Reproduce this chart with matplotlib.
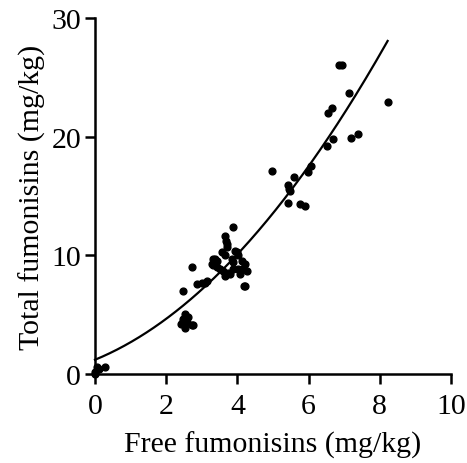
import numpy as np
import matplotlib.pyplot as plt

plt.rcParams['font.family'] = ['Liberation Serif', 'DejaVu Serif']

# free fumonisins (mg/kg)
free_fum = [0.0, 0.05, 0.1, 0.0, 0.28,
            2.43, 2.48, 2.53, 2.58, 2.72, 2.53, 2.76, 2.50, 2.62, 2.45,
            2.46, 2.73, 2.86, 3.0, 3.14, 3.09,
            3.28, 3.32, 3.42, 3.32, 3.37, 3.42, 3.51, 3.60, 3.74,
            3.56, 3.65, 3.65, 3.68, 3.70, 3.72, 3.87,
            3.65, 3.79, 3.84, 3.89, 3.93, 3.98, 4.03, 4.07, 4.12, 4.12, 4.21, 4.26, 3.89, 4.03,
            4.21, 4.19,
            4.96, 5.41, 5.43, 5.46, 5.48, 5.59, 5.76, 5.90, 5.99, 6.07,
            6.53, 6.55, 6.65, 6.68, 6.86, 6.93, 7.14, 7.19, 7.38, 8.22]
# total fumonisins (mg/kg)
total_fum = [0.0, 0.55, 0.4, 0.2, 0.55,
             4.2, 4.6, 5.05, 4.35, 4.1, 3.9, 4.1, 4.5, 4.8, 4.3,
             7.0, 9.0, 7.6, 7.7, 7.85, 7.7,
             9.3, 9.7, 9.55, 9.15, 9.7, 9.0, 8.85, 8.7, 8.55,
             10.25, 10.0, 11.65, 11.2, 10.95, 10.7, 12.4,
             8.3, 8.4, 9.7, 9.4, 10.4, 10.25, 10.0, 8.4, 9.55, 8.85, 9.3, 8.7, 8.85, 8.85,
             7.45, 7.4,
             17.1, 14.4, 15.9, 15.6, 15.4, 16.6, 14.3, 14.2, 17.0, 17.5,
             19.2, 22.0, 22.4, 19.8, 26.0, 26.0, 23.7, 19.9, 20.2, 22.9]

# second order fit: a + b*x + c*x^2
fit_coef = [1.2, 1.23, 0.248]
fit_xmax = 8.22

fig = plt.figure(figsize=(4.67, 4.64), dpi=100)
ax = fig.add_axes([0.2034, 0.1918, 0.7623, 0.7672])

ax.scatter(free_fum, total_fum, s=24, color='black', zorder=3, clip_on=False)

xs = np.linspace(0, fit_xmax, 200)
ax.plot(xs, fit_coef[0] + fit_coef[1] * xs + fit_coef[2] * xs ** 2,
        color='black', lw=1.6, clip_on=False)

ax.set_xlim(0, 10)
ax.set_ylim(0, 30)
ax.set_xticks([0, 2, 4, 6, 8, 10])
ax.set_yticks([0, 10, 20, 30])

for side in ['top', 'right']:
    ax.spines[side].set_visible(False)
for side in ['left', 'bottom']:
    ax.spines[side].set_linewidth(1.8)

ax.tick_params(direction='out', length=7, width=1.8, labelsize=21.5)
ax.tick_params(axis='x', pad=7)
ax.tick_params(axis='y', pad=3)

ax.set_xlabel('Free fumonisins (mg/kg)', fontsize=21.5, labelpad=8)
ax.set_ylabel('Total fumonisins (mg/kg)', fontsize=21.5, labelpad=4)

fig.savefig('out.png', dpi=100)
